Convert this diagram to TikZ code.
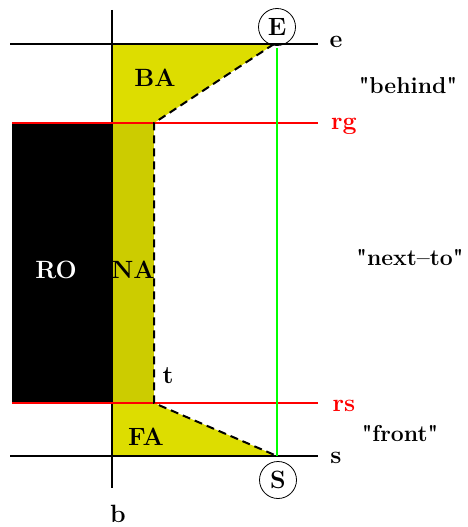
\documentclass[tikz,border=0pt]{standalone}
\usepackage{fontspec}
\newfontfamily\qfont{Latin Modern Roman}
\newcommand{\sq}{{\qfont\bfseries\symbol{34}}}
\begin{document}
\begin{tikzpicture}[x=1pt,y=-1pt,
  lbl/.style={font=\fontsize{25}{29}\selectfont\bfseries, inner sep=0pt},
  qlbl/.style={font=\fontsize{23}{27}\selectfont\bfseries, inner sep=0pt},
  rlbl/.style={lbl, text=red},
  ln/.style={line width=1.9pt},
  rln/.style={line width=1.9pt, draw=red},
  dsh/.style={line width=2pt, dash pattern=on 8pt off 5pt},
  circ/.style={draw, circle, line width=0.8pt, minimum size=37pt, inner sep=0pt, font=\fontsize{25}{29}\selectfont\bfseries}]
\useasboundingbox (0,0) rectangle (467,527);
\definecolor{ya}{RGB}{221,221,0}
\definecolor{yn}{RGB}{204,204,0}
% coordinates
\coordinate (E0) at (274,44);
\coordinate (G0) at (154,123);
\coordinate (T0) at (154,403);
\coordinate (S0) at (277,456);
% areas
\fill[ya] (112,44) -- (E0) -- (G0) -- (112,123) -- cycle;
\fill[ya] (112,403) -- (T0) -- (S0) -- (112,456) -- cycle;
\fill[yn] (112,123) rectangle (T0);
\fill[black] (12,123) rectangle (112,403);
% lines
\draw[ln] (10,44) -- (318,44);
\draw[ln] (10,456) -- (318,456);
\draw[ln] (112,10) -- (112,488);
\draw[rln] (12,123) -- (318,123);
\draw[rln] (12,403) -- (318,403);
\draw[line width=1.9pt, draw=green] (277,48) -- (S0);
\draw[dsh] (E0) -- (G0) -- (T0) -- (S0);
% circles
\node[circ] (E) at (277,27) {E};
\node[circ] (S) at (278,480) {S};
% labels
\node[lbl] (e) at (336,42) {e};
\node[rlbl] (rg) at (344,126) {rg};
\node[rlbl] (rs) at (344,406) {rs};
\node[lbl] (s) at (336,458) {s};
\node[lbl] (b) at (118,514) {b};
\node[lbl] (BA) at (155,78) {BA};
\node[lbl] (NA) at (133,270) {NA};
\node[lbl, text=white] (RO) at (56,270) {RO};
\node[lbl] (t) at (168,376) {t};
\node[lbl] (FA) at (146,437) {FA};
\node[qlbl] (beh) at (408,86) {\sq behind\sq};
\node[qlbl] (nxt) at (410,258) {\sq next--to\sq};
\node[qlbl] (fr) at (400,434) {\sq front\sq};
\end{tikzpicture}
\end{document}
